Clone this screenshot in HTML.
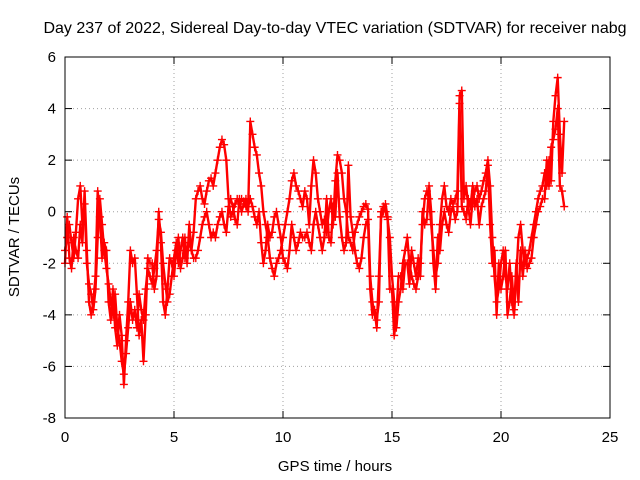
<!DOCTYPE html>
<html><head><meta charset="utf-8"><style>
html,body{margin:0;padding:0;background:#fff;}
svg{display:block;font-family:"Liberation Sans",sans-serif;}
</style></head><body>
<svg id="chart" width="640" height="480" viewBox="0 0 640 480" xmlns="http://www.w3.org/2000/svg">
<rect width="640" height="480" fill="#fff"/>
<text x="335" y="33" font-size="16" text-anchor="middle" fill="#000">Day 237 of 2022, Sidereal Day-to-day VTEC variation (SDTVAR) for receiver nabg</text>
<text x="335" y="471" font-size="15" text-anchor="middle">GPS time / hours</text>
<text x="0" y="0" font-size="15" text-anchor="middle" transform="translate(19,237) rotate(-90)">SDTVAR / TECUs</text>
<g id="grid"></g>
<g id="ticks"></g>
<g id="marks"></g>
<rect x="65" y="57" width="545" height="361" fill="none" stroke="#000" stroke-width="1"/>
</svg>
<script>
const xTicks=[0,5,10,15,20,25];
const yTicks=[-8,-6,-4,-2,0,2,4,6];
const startTime=0.0;
const timeStep=0.1;
const seriesA=[-1.5,-1,-0.5,-1.2,-1.8,-0.8,0.5,1,-0.5,0.3,
-2,-2.8,-3.2,-3.8,-3,-1,0.5,-0.5,-1.5,-2.2,
-2.8,-3.5,-4,-3.2,-4.5,-5,-5.8,-6.3,-5.5,-4.5,
-3.5,-4.2,-3.8,-4.5,-3.2,-3.8,-4.2,-3,-2.2,-2.5,
-2.8,-2.2,-1.5,-0.3,-0.8,-2,-2.8,-3.5,-3.2,-2.5,
-1.8,-1.2,-2,-1.5,-1,-1.8,-1.5,-1.2,-1.5,-0.8,
0.5,0.8,1,0.5,0.3,0.8,1.2,1.3,1,1.5,
2,2.5,2.8,2.6,2,0.5,-0.2,0,0.3,0.5,
0.3,0.5,0.4,0.2,0,3.5,3,2.5,2.2,1.5,
1,0,-0.5,-1,-1.8,-2.2,-2.5,-2,-1.8,-1.5,
-1,-0.5,0,0.5,1.2,1.5,1,0.8,0.5,0.2,
0.8,0.5,-0.5,1,2,1.5,0.5,0,-0.5,-0.3,
-0.8,0,0.5,-0.5,1.2,2.2,2,1.5,0.5,0,
-1,-1.2,-1.5,-0.8,-0.5,-0.2,0,0.2,0.3,0.1,
-2.5,-3.5,-4,-4.2,-3.5,0,0.2,0,-0.3,-1,
-2.5,-3.5,-4.5,-3.5,-3,-2,-1.5,-1,-2,-2.5,
-2.8,-3,-2.5,-2,-0.5,0.5,0.8,0.5,-0.5,-1.5,
-2.5,-2,-0.5,0.5,1,0.2,0,0.5,0.3,0.5,
0.8,4.5,4.7,0.5,1,0.2,-0.5,0.5,0.8,1,
0.5,0.8,1.2,1.5,2,1,-1,-2.5,-3.5,-3,
-2,-1.5,-2.5,-3,-2,-3.5,-4,-2.5,-1,-0.5,
-1.5,-2,-1.8,-1.5,-1,-0.5,0,0.5,0.8,1,
1.5,1,2,1.2,3.5,4.5,5.2,3,1.5,3.5];
const seriesB=[-2,-0.2,-1.8,-2.2,-1,-1.5,-1.8,-0.5,-1.2,0.8,
-1.5,-3.5,-4,-3.5,-2.5,0.8,-0.2,-1.8,-1.2,-1.5,
-3.5,-4.2,-3,-4.5,-5.2,-4,-4.8,-6.7,-5,-3.5,
-1.5,-2,-1.8,-3.2,-4.8,-4.2,-5.8,-4,-1.8,-2,
-2,-3,-2.5,0,-1.2,-3.5,-4,-3,-1.8,-2,
-2.5,-1.5,-1,-2.2,-1.8,-1,-2,-0.5,-1.5,-1.8,
-1.8,-1.5,-1,-0.5,-0.2,0,-0.5,-1,-0.8,-1,
-0.5,-0.2,0,-0.5,-0.8,0.2,0.5,0.2,-0.3,-0.5,
0.5,0,0.3,0.5,0.2,0.5,0.2,-0.2,-0.5,0,
-1.2,-2,-1.5,-0.5,-1,-0.8,-0.2,0,-0.5,-1,
-1.8,-2,-2.2,-1.5,-0.5,-1,-1.5,-1.2,-0.8,-1,
-1,-0.8,-1.2,-1.5,-0.5,0,-0.5,-1,-1.5,-1,
0.5,-1,-1.2,0.2,-0.2,1.5,-0.2,-1,-1.5,-1.2,
1.8,-0.2,-0.8,-1.5,-2,-2.2,-1.8,-1,-0.5,-0.3,
-3,-4,-3.8,-4.5,-2.5,-0.2,0,0.3,-0.2,-3,
-3,-4.8,-4,-2.5,-2.5,-3,-2,-2,-2.8,-1.5,
-2,-2.5,-1.8,-2.5,0,-0.5,-0.3,1,0,-2,
-3,-1,-1.5,-0.5,0,-0.5,-0.8,0,0.2,-0.3,
0,4.2,0.2,0,-0.3,0.5,0.2,1,0.2,0.5,
-0.5,0.2,0.5,0.8,1.8,-0.5,-2,-1.5,-4,-2,
-3,-2.5,-1.5,-4,-3.5,-2.5,-3.8,-2,-3.5,-1.5,
-2.5,-1.5,-2.2,-2,-1.8,-1,-0.5,0,0.2,0.5,
0.5,2,1,2.5,2.8,3.2,4,1,0.8,0.2];

const X0=65,X1=610,Y0=418,Y1=57;
const xs=v=>X0+(v-0)/(25-0)*(X1-X0);
const ys=v=>Y0-(v-(-8))/(6-(-8))*(Y0-Y1);
const NS="http://www.w3.org/2000/svg";
const grid=document.getElementById('grid'),ticks=document.getElementById('ticks'),marks=document.getElementById('marks');
function mk(tag,attrs,parent){const e=document.createElementNS(NS,tag);for(const k in attrs)e.setAttribute(k,attrs[k]);parent.appendChild(e);return e;}
xTicks.forEach(t=>{const x=xs(t);
 if(t>0&&t<25){const g=mk('line',{x1:x,x2:x,y1:Y0,y2:Y1,stroke:'#a0a0a0','stroke-dasharray':'1,3'},grid);
 
 }
 const a=mk('line',{x1:x,x2:x,y1:Y0,y2:Y0-7,stroke:'#000'},ticks);
 
 
 mk('line',{x1:x,x2:x,y1:Y1,y2:Y1+7,stroke:'#000'},ticks);
 const l=mk('text',{x:x,y:Y0+24,'font-size':15,'text-anchor':'middle'},ticks);l.textContent=t;
 
 
});
yTicks.forEach(t=>{const y=ys(t);
 if(t>-8&&t<6){const g=mk('line',{x1:X0,x2:X1,y1:y,y2:y,stroke:'#a0a0a0','stroke-dasharray':'1,3'},grid);
 
 }
 const a=mk('line',{x1:X0,x2:X0+7,y1:y,y2:y,stroke:'#000'},ticks);
 
 
 mk('line',{x1:X1,x2:X1-7,y1:y,y2:y,stroke:'#000'},ticks);
 const l=mk('text',{x:X0-9,y:y+5,'font-size':15,'text-anchor':'end'},ticks);l.textContent=t;
 
 
});
function drawSeries(vals,name){
 let d='';
 vals.forEach((v,i)=>{const x=xs(startTime+i*timeStep),y=ys(v);d+=(i?'L':'M')+x.toFixed(1)+' '+y.toFixed(1);});
 const p=mk('path',{d:d,fill:'none',stroke:'#ff0000','stroke-width':2.4,'stroke-linejoin':'round'},marks);
 
 
 vals.forEach((v,i)=>{const x=xs(startTime+i*timeStep),y=ys(v);
  const m=mk('path',{d:`M${x-4} ${y}H${x+4}M${x} ${y-4}V${y+4}`,stroke:'#ff0000','stroke-width':1.4},marks);
  
  
 });
}
drawSeries(seriesB,'series-b');
drawSeries(seriesA,'series-a');
</script>
</body></html>
